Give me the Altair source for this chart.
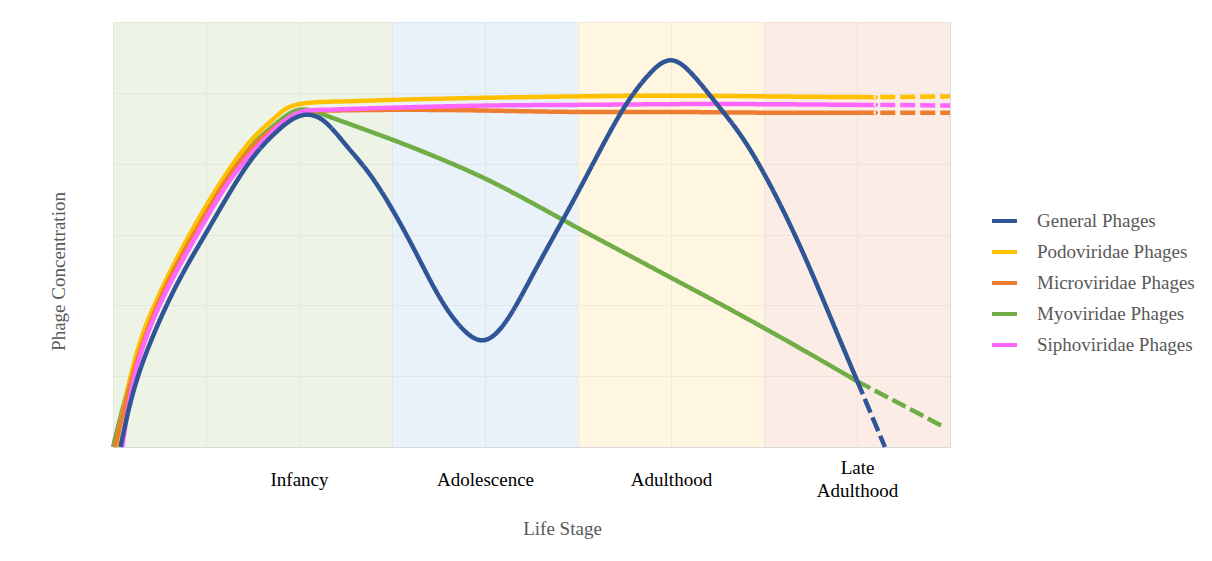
import altair as alt
import pandas as pd

# ---------------- data ----------------
series_names = ["General Phages", "Podoviridae Phages", "Microviridae Phages",
                "Myoviridae Phages", "Siphoviridae Phages"]
series_colors = ["#2F5597", "#FFC000", "#ED7D31", "#70AD47", "#FF66FF"]

general_x = [0.08, 0.25, 0.5, 0.75, 1.0, 1.25, 1.5, 1.75, 2.0, 2.25, 2.5, 2.75, 3.0, 3.25,
             3.5, 3.75, 4.0, 4.25, 4.5, 4.75, 5.0, 5.25, 5.5, 5.75, 6.0, 6.25, 6.5, 6.75,
             7.0, 7.25, 7.5, 7.75, 8.0]
general_y = [0.0, 0.92, 1.78, 2.45, 3.02, 3.58, 4.08, 4.44, 4.67, 4.62, 4.27, 3.87, 3.36, 2.76,
             2.14, 1.68, 1.51, 1.82, 2.4, 3.0, 3.6, 4.22, 4.8, 5.24, 5.46, 5.23, 4.83, 4.4,
             3.86, 3.22, 2.5, 1.72, 0.94]
general_dash_x = [8.0, 8.3]
general_dash_y = [0.94, 0.0]

podo_x = [0.03, 0.25, 0.5, 0.75, 1.0, 1.25, 1.5, 1.75, 2.0, 2.5, 3.0, 4.0, 5.0, 6.0, 7.0, 8.0, 8.2]
podo_y = [0.0, 1.3, 2.16, 2.82, 3.4, 3.92, 4.35, 4.66, 4.84, 4.88, 4.9, 4.93, 4.95, 4.96, 4.95, 4.94, 4.94]
podo_dash_x = [8.25, 9.0]
podo_dash_y = [4.94, 4.95]

micro_x = [0.02, 0.25, 0.5, 0.75, 1.0, 1.25, 1.5, 1.75, 2.0, 2.25, 3.0, 4.0, 5.0, 6.0, 7.0, 8.0, 8.2]
micro_y = [0.0, 1.18, 2.07, 2.73, 3.3, 3.83, 4.24, 4.52, 4.72, 4.75, 4.76, 4.75, 4.73, 4.73, 4.72, 4.72, 4.72]
micro_dash_x = [8.25, 9.0]
micro_dash_y = [4.72, 4.72]

myo_x = [0.0, 0.25, 0.5, 0.75, 1.0, 1.25, 1.5, 1.75, 2.0, 2.25, 2.5, 3.0, 3.5, 4.0, 4.5,
         5.0, 5.5, 6.0, 6.5, 7.0, 7.5, 8.0]
myo_y = [0.0, 1.24, 2.13, 2.8, 3.36, 3.88, 4.27, 4.56, 4.76, 4.7, 4.58, 4.34, 4.08, 3.79, 3.45,
         3.09, 2.74, 2.39, 2.04, 1.68, 1.31, 0.93]
myo_dash_x = [8.0, 8.91]
myo_dash_y = [0.93, 0.30]

sipho_x = [0.1, 0.25, 0.5, 0.75, 1.0, 1.25, 1.5, 1.75, 2.0, 2.25, 2.5, 3.0, 4.0, 5.0, 6.0, 7.0, 8.0, 8.2]
sipho_y = [0.0, 1.1, 2.0, 2.64, 3.22, 3.75, 4.16, 4.5, 4.72, 4.76, 4.77, 4.79, 4.82, 4.83, 4.84, 4.84, 4.83, 4.83]
sipho_dash_x = [8.25, 9.0]
sipho_dash_y = [4.83, 4.82]

stage_values = [2, 4, 6, 8]
stage_labels = ["Infancy", "Adolescence", "Adulthood", "Late Adulthood"]

band_start = [0, 3, 5, 7]
band_end = [3, 5, 7, 9]
band_fill = ["#E6F0DC", "#E0EBF6", "#FEF2D3", "#F9E6DA"]

# ---------------- build tables ----------------
series_data = {
    "General Phages": (general_x, general_y, general_dash_x, general_dash_y),
    "Podoviridae Phages": (podo_x, podo_y, podo_dash_x, podo_dash_y),
    "Microviridae Phages": (micro_x, micro_y, micro_dash_x, micro_dash_y),
    "Myoviridae Phages": (myo_x, myo_y, myo_dash_x, myo_dash_y),
    "Siphoviridae Phages": (sipho_x, sipho_y, sipho_dash_x, sipho_dash_y),
}

def table(names):
    rows = []
    for name in names:
        sx, sy, dx, dy = series_data[name]
        for i, (a, b) in enumerate(zip(sx, sy)):
            rows.append({"x": a, "y": b, "series": name, "seg": "solid", "idx": i})
        for i, (a, b) in enumerate(zip(dx, dy)):
            rows.append({"x": a, "y": b, "series": name, "seg": "dashed", "idx": i})
    return pd.DataFrame(rows)

band_df = pd.DataFrame({"x": band_start, "x_end": band_end,
                        "y": [0] * 4, "y_end": [6] * 4, "fill": band_fill})

def js_label(lbl):
    if len(lbl) > 12:
        parts = lbl.split(" ", 1)
        return "[" + ", ".join("'" + p + "'" for p in parts) + "]"
    return "'" + lbl + "'"

label_expr = ""
for v, l in zip(stage_values, stage_labels):
    label_expr += f"datum.value == {v} ? {js_label(l)} : "
label_expr += "''"

multi_values = [v for v, l in zip(stage_values, stage_labels) if len(l) > 12]
multi_test = " || ".join(f"datum.value == {v}" for v in multi_values)

FONT = "Liberation Serif"

x_enc = alt.X(
    "x:Q",
    scale=alt.Scale(domain=[0, 9], nice=False, zero=False),
    axis=alt.Axis(
        values=list(range(10)), grid=True, gridColor="#D9D9D9", gridWidth=1,
        ticks=False, tickSize=0, domain=True, domainColor="#D9D9D9",
        labelExpr=label_expr, labelFont=FONT, labelFontSize=19, labelColor="#000000",
        labelBaseline="middle",
        labelPadding={"condition": {"test": multi_test, "value": 20}, "value": 32},
        labelLineHeight=23,
        labelOverlap=False, labelBound=False, labelFlush=False,
        title="Life Stage", titleFont=FONT, titleFontSize=19, titleColor="#595959",
        titleFontWeight="normal", titleX=449, titleY=81, titleAlign="center",
        titleBaseline="middle", titleAnchor="start",
    ),
)
y_enc = alt.Y(
    "y:Q",
    scale=alt.Scale(domain=[0, 6], nice=False, zero=True),
    axis=alt.Axis(
        values=list(range(7)), grid=True, gridColor="#D9D9D9", gridWidth=1,
        labels=False, ticks=False, tickSize=0, domain=False,
        title="Phage Concentration", titleFont=FONT, titleFontSize=19,
        titleColor="#595959", titleFontWeight="normal", titleX=-55, titleY=249,
        titleAngle=270, titleAlign="center", titleBaseline="middle", titleAnchor="start",
    ),
)
color_enc = alt.Color(
    "series:N",
    scale=alt.Scale(domain=series_names, range=series_colors),
    legend=alt.Legend(
        title=None, orient="none", legendX=877, legendY=184.5,
        symbolType="stroke", symbolSize=625, symbolStrokeWidth=4,
        labelFont=FONT, labelFontSize=19, labelColor="#595959",
        labelOffset=18, rowPadding=6, padding=0, labelLimit=300,
    ),
)
dash_enc = alt.StrokeDash(
    "seg:N",
    scale=alt.Scale(domain=["solid", "dashed"], range=[[1, 0], [15, 5]]),
    legend=None,
)

bands = alt.Chart(band_df).mark_rect(opacity=0.7).encode(
    x=x_enc, x2="x_end:Q", y=y_enc, y2="y_end:Q",
    fill=alt.Fill("fill:N", scale=None),
)

def line_layer(names, interp):
    return alt.Chart(table(names)).mark_line(strokeWidth=4.5, interpolate=interp).encode(
        x=x_enc, y=y_enc, color=color_enc, strokeDash=dash_enc, order="idx:Q",
    )

green_layer = line_layer(["Myoviridae Phages"], "natural")
plateau_layer = line_layer(["Podoviridae Phages", "Microviridae Phages", "Siphoviridae Phages"],
                           "natural")
blue_layer = line_layer(["General Phages"], "natural")

chart = alt.layer(bands, green_layer, plateau_layer, blue_layer).properties(
    width=837, height=425,
    padding={"left": 105, "top": 14, "right": 250, "bottom": 100},
    autosize=alt.AutoSizeParams(type="none"),
    background="white",
).configure_view(stroke=None)

chart.save("out.html", embed_options={"renderer": "svg", "actions": False})
